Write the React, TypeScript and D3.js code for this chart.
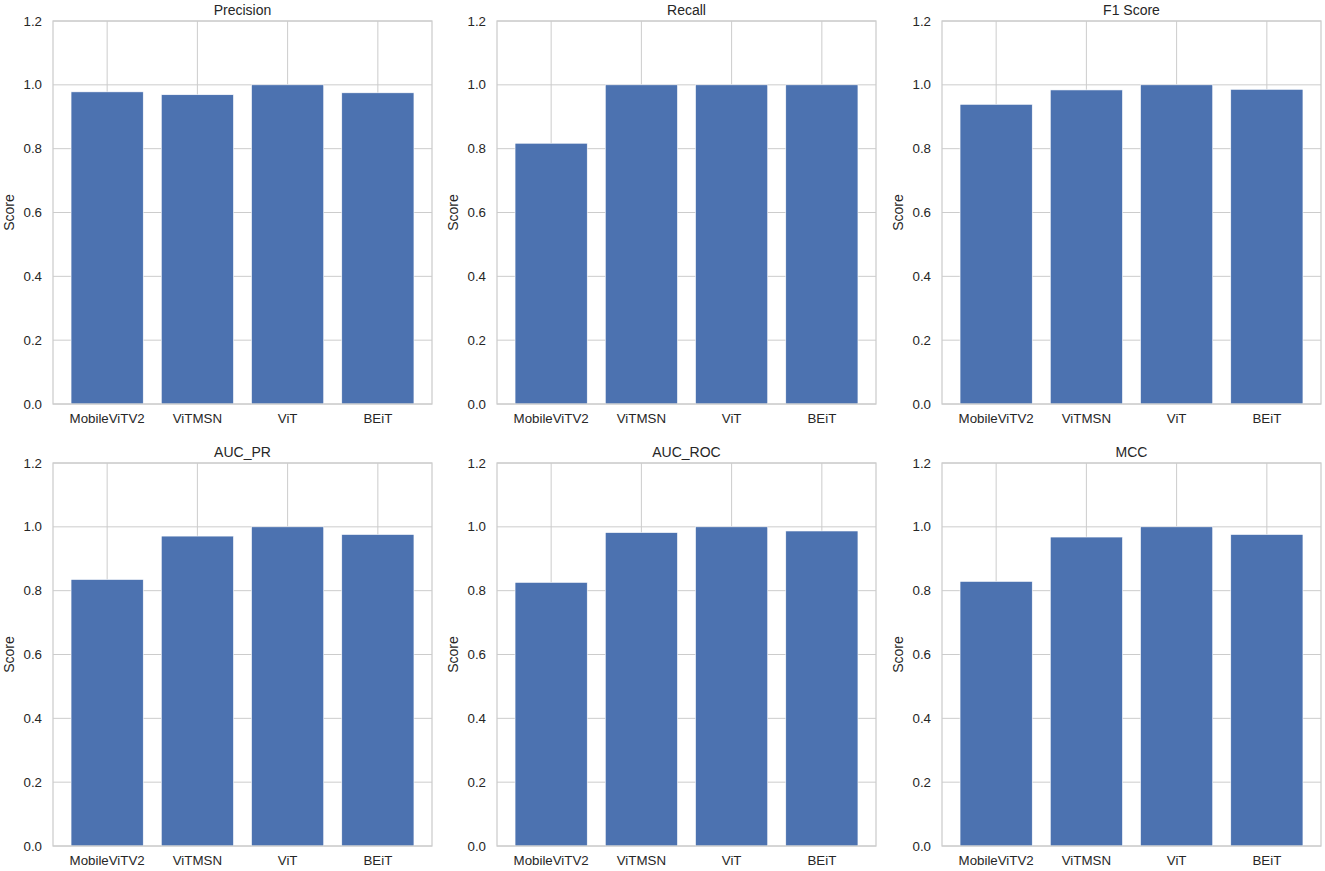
import * as d3 from "d3";

const models = ["MobileViTV2", "ViTMSN", "ViT", "BEiT"];
const metricNames = ["Precision", "Recall", "F1 Score", "AUC_PR", "AUC_ROC", "MCC"];

const precision = [0.978, 0.969, 1.0, 0.975];
const recall = [0.817, 1.0, 1.0, 1.0];
const f1Score = [0.939, 0.984, 1.0, 0.986];
const aucPr = [0.835, 0.971, 1.0, 0.976];
const aucRoc = [0.826, 0.982, 1.0, 0.987];
const mcc = [0.829, 0.968, 1.0, 0.976];

const yTicks = [0, 0.2, 0.4, 0.6, 0.8, 1.0, 1.2];

const seriesList = [precision, recall, f1Score, aucPr, aucRoc, mcc];

const W = 1325;
const H = 871;
const panelLefts = [53, 497, 942];
const panelTops = [21, 463];
const panelW = 379;
const panelH = 383;

const barColor = "#4c72b0";
const gridColor = "#cccccc";
const textColor = "#262626";
const font = "'Liberation Sans', Arial, sans-serif";

function Panel(props: { title: string; values: number[]; x0: number; y0: number }) {
  const { title, values, x0, y0 } = props;

  const xScale = d3
    .scaleBand()
    .domain(models)
    .range([0, panelW])
    .paddingInner(0.2)
    .paddingOuter(0.2);

  const yScale = d3.scaleLinear().domain([0, 1.2]).range([panelH, 0]);

  return (
    <g transform={`translate(${x0},${y0})`}>
      {/* grid */}
      {yTicks.map((t) => (
        <line
          key={"h" + t}
          x1={0}
          x2={panelW}
          y1={yScale(t)}
          y2={yScale(t)}
          stroke={gridColor}
          strokeWidth={1}
        />
      ))}
      {models.map((m) => {
        const cx = (xScale(m) as number) + xScale.bandwidth() / 2;
        return (
          <line key={"v" + m} x1={cx} x2={cx} y1={0} y2={panelH} stroke={gridColor} strokeWidth={1} />
        );
      })}

      {/* bars */}
      {values.map((v, i) => (
        <rect
          key={models[i]}
          x={xScale(models[i])}
          y={yScale(v)}
          width={xScale.bandwidth()}
          height={panelH - yScale(v)}
          fill={barColor}
          stroke="#ffffff"
          strokeWidth={0.6}
        />
      ))}

      {/* frame */}
      <rect x={0} y={0} width={panelW} height={panelH} fill="none" stroke={gridColor} strokeWidth={1.25} />

      {/* y tick labels */}
      {yTicks.map((t) => (
        <text
          key={"yl" + t}
          x={-11}
          y={yScale(t)}
          dy="0.35em"
          textAnchor="end"
          fontSize={13.3}
          fill={textColor}
          fontFamily={font}
        >
          {d3.format(".1f")(t)}
        </text>
      ))}

      {/* x tick labels */}
      {models.map((m) => (
        <text
          key={"xl" + m}
          x={(xScale(m) as number) + xScale.bandwidth() / 2}
          y={panelH + 19}
          textAnchor="middle"
          fontSize={13.3}
          fill={textColor}
          fontFamily={font}
        >
          {m}
        </text>
      ))}

      {/* title */}
      <text
        x={panelW / 2}
        y={-6}
        textAnchor="middle"
        fontSize={14}
        fill={textColor}
        fontFamily={font}
      >
        {title}
      </text>

      {/* y axis label */}
      <text
        transform={`translate(${-39},${panelH / 2}) rotate(-90)`}
        textAnchor="middle"
        fontSize={14}
        fill={textColor}
        fontFamily={font}
      >
        Score
      </text>
    </g>
  );
}

export default function App() {
  return (
    <svg
      width={W}
      height={H}
      style={{ position: "absolute", left: 0, top: 0, background: "#ffffff" }}
    >
      <rect width={W} height={H} fill="#ffffff" />
      {metricNames.map((name, i) => (
        <Panel
          key={name}
          title={name}
          values={seriesList[i]}
          x0={panelLefts[i % 3]}
          y0={panelTops[Math.floor(i / 3)]}
        />
      ))}
    </svg>
  );
}
